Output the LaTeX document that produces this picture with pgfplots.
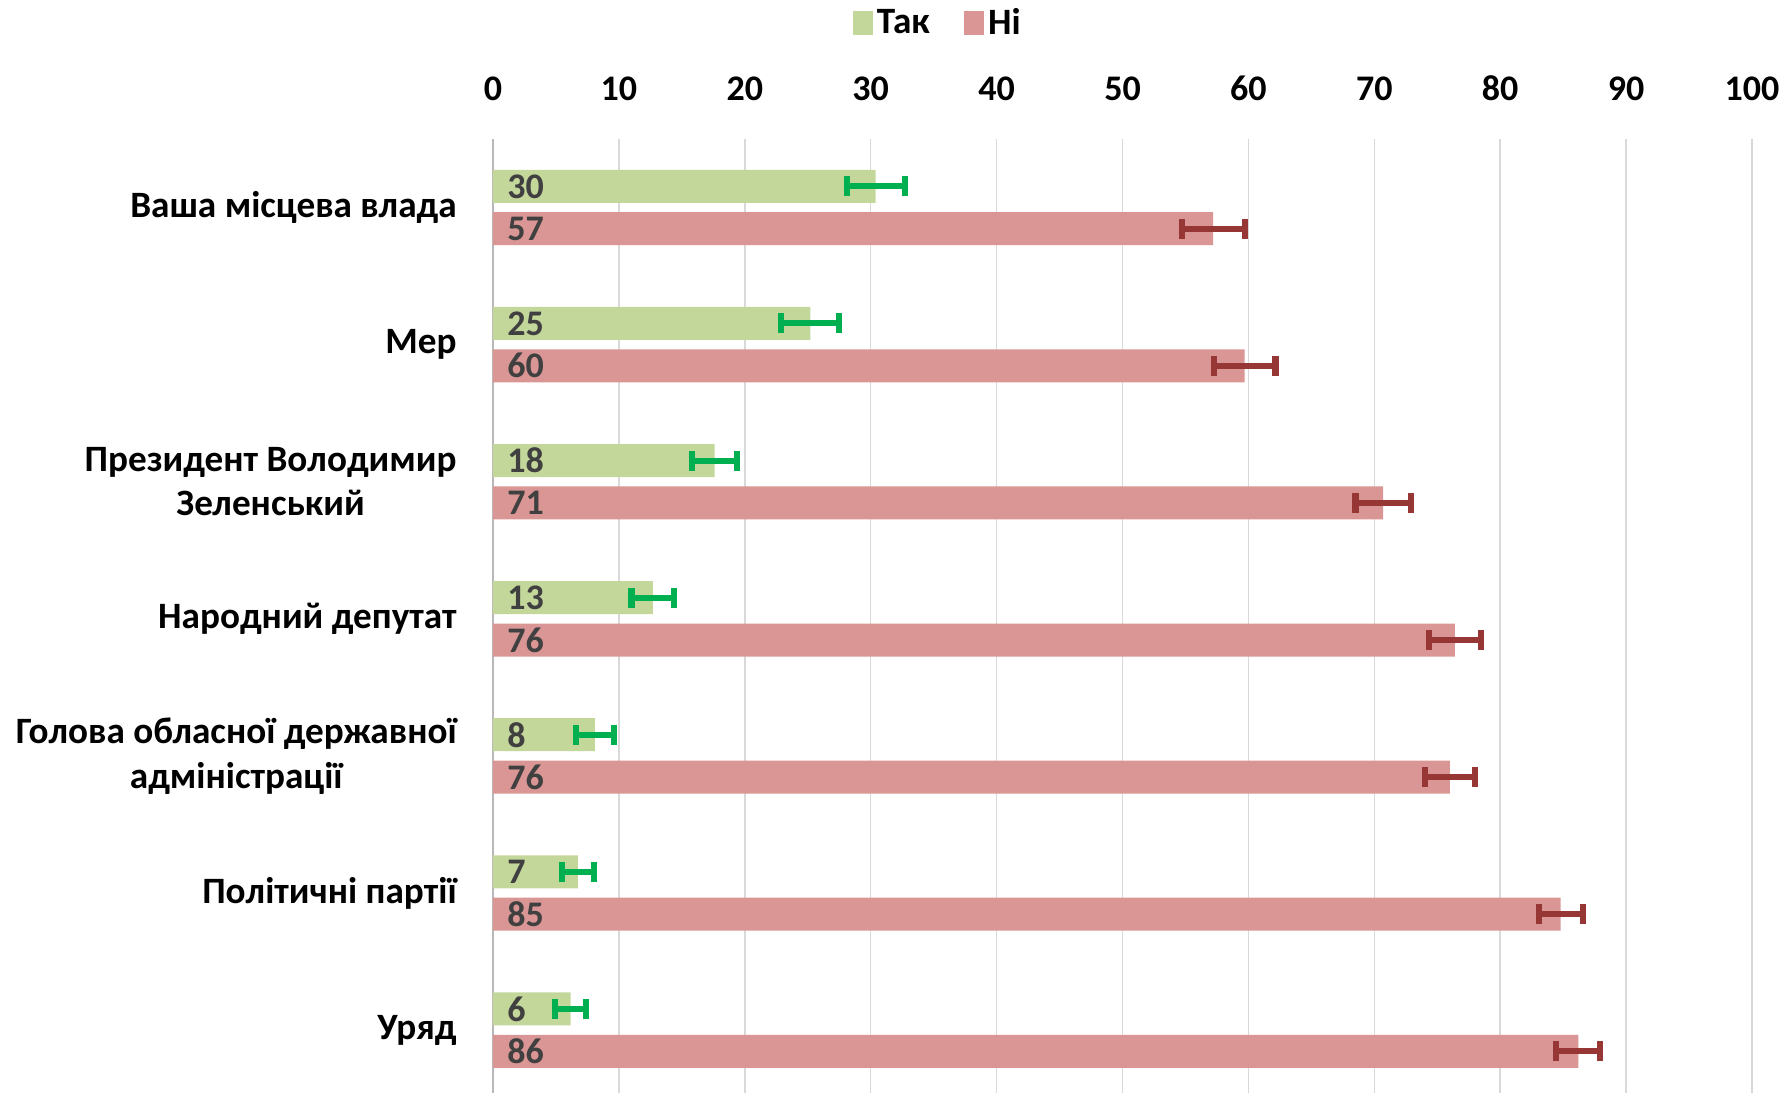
\documentclass[border=0pt]{standalone}
\usepackage{pgfplots}
\pgfplotsset{compat=1.18}
\usepackage{pgfplotstable}
\usepackage{fontspec}
\setmainfont{Carlito}
\definecolor{takbar}{HTML}{C4D79B}
\definecolor{nibar}{HTML}{DA9694}
\definecolor{takerr}{HTML}{00B050}
\definecolor{nierr}{HTML}{963735}
\definecolor{gridc}{HTML}{D9D9D9}
\definecolor{labc}{HTML}{404040}

\pgfplotstableread{
y x err z lab
-0.1546 30.4 2.3 0 30
0.8454 25.2 2.3 0 25
1.8454 17.6 1.8 0 18
2.8454 12.7 1.7 0 13
3.8454 8.1 1.5 0 8
4.8454 6.75 1.3 0 7
5.8454 6.16 1.25 0 6
}\tak

\pgfplotstableread{
y x err z lab
0.1546 57.2 2.5 0 57
1.1546 59.7 2.45 0 60
2.1546 70.7 2.2 0 71
3.1546 76.4 2.05 0 76
4.1546 76.0 2.0 0 76
5.1546 84.8 1.75 0 85
6.1546 86.2 1.75 0 86
}\ni

\newcommand{\chfont}{\fontsize{18}{22.25}\selectfont\bfseries}
\newcommand{\catfont}{\fontsize{18.6}{22.25}\selectfont\bfseries}
\newcommand{\legfont}{\fontsize{18.6}{22.25}\selectfont\bfseries}

\begin{document}
\begin{tikzpicture}
\useasboundingbox (-246.5pt,69.5pt) rectangle (648.5pt,-478pt);
\begin{axis}[
  at={(0,0)}, anchor=north west,
  scale only axis, width=629.5pt, height=477.1pt,
  xmin=0, xmax=100, ymin=-0.5, ymax=6.46, y dir=reverse,
  axis x line*=top, axis y line*=left,
  x axis line style={draw=none},
  y axis line style={draw=black!28, line width=0.8pt},
  xtick={0,10,20,30,40,50,60,70,80,90,100},
  xticklabels={0,10,20,30,40,50,60,70,80,90,100},
  ytick={0,1,2,3,4,5,6},
  yticklabels={Ваша місцева влада, Мер, {Президент Володимир\\Зеленський}, Народний депутат, {Голова обласної державної\\адміністрації}, Політичні партії, Уряд},
  major tick length=0pt,
  xmajorgrids, grid style={gridc, line width=0.75pt},
  xticklabel style={font=\chfont, inner sep=0pt, yshift=19pt},
  yticklabel style={font=\catfont, align=center, inner sep=0pt, xshift=-18pt},
  legend style={at={(0.354,1.1216)}, anchor=center, draw=none, fill=none,
    legend columns=2, font=\legfont, inner sep=0pt,
    /tikz/every even column/.append style={column sep=15pt},
    cells={anchor=west}},
]
\addplot[xbar, bar width=16.5pt, bar shift=0pt, fill=takbar, draw=none, forget plot]
  table[x=x, y=y]{\tak};
\addplot[xbar, bar width=16.5pt, bar shift=0pt, fill=nibar, draw=none, forget plot]
  table[x=x, y=y]{\ni};
\addplot[forget plot, draw=none, mark=none,
  error bars/.cd, x dir=both, x explicit,
  error bar style={draw=takerr, line width=3pt},
  error mark options={draw=takerr, line width=3.1pt, mark size=5pt, rotate=90}]
  table[x=x, y=y, x error=err]{\tak};
\addplot[forget plot, draw=none, mark=none,
  error bars/.cd, x dir=both, x explicit,
  error bar style={draw=nierr, line width=3pt},
  error mark options={draw=nierr, line width=3.1pt, mark size=5pt, rotate=90}]
  table[x=x, y=y, x error=err]{\ni};
\addlegendimage{legend image code/.code={\fill[takbar] (0pt,-5.75pt) rectangle (9.75pt,5.75pt);}}
\addlegendentry{Так}
\addlegendimage{legend image code/.code={\fill[nibar] (0pt,-5.75pt) rectangle (9.75pt,5.75pt);}}
\addlegendentry{Ні}
\addplot[forget plot, draw=none, mark=none, nodes near coords, point meta=explicit symbolic,
  every node near coord/.append style={anchor=west, inner sep=0pt, xshift=7pt, font=\chfont, text=labc}]
  table[x=z, y=y, meta=lab]{\tak};
\addplot[forget plot, draw=none, mark=none, nodes near coords, point meta=explicit symbolic,
  every node near coord/.append style={anchor=west, inner sep=0pt, xshift=7pt, font=\chfont, text=labc}]
  table[x=z, y=y, meta=lab]{\ni};
\end{axis}
\end{tikzpicture}
\end{document}
